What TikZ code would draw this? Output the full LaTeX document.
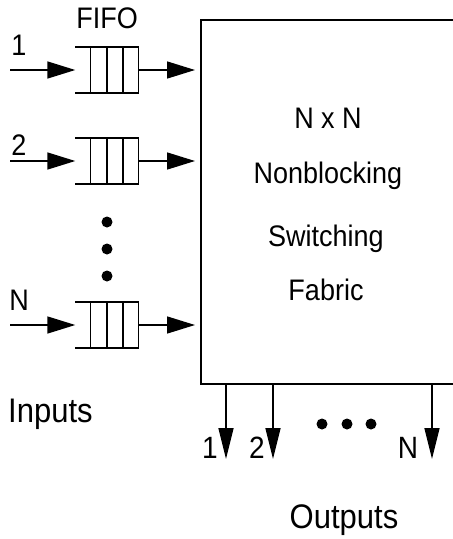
\documentclass[tikz,border=0pt]{standalone}
\usepackage{fontspec}
\setmainfont{Liberation Sans}
\usetikzlibrary{arrows.meta, calc, positioning}
\newcommand{\tallish}[1]{\scalebox{1}[1.1]{#1}}

\begin{document}
\begin{tikzpicture}[x=1pt, y=-1pt,
    flow/.style={-{Triangle[length=28pt, width=17pt]}, line width=1.5pt},
    outflow/.style={-{Triangle[length=31pt, width=15pt]}, line width=1.5pt},
    fifo/.style={minimum width=63pt, minimum height=46pt, inner sep=0pt},
    lbl/.style={font=\fontsize{27}{30}\selectfont, inner sep=0pt, anchor=base},
    big/.style={font=\fontsize{31}{36}\selectfont, inner sep=0pt, anchor=base},
    fab/.style={font=\fontsize{27}{32}\selectfont, inner sep=0pt, anchor=base},
    dot/.style={circle, fill, inner sep=0pt, minimum size=11pt},
]
\useasboundingbox (0,0) rectangle (453,539);
\clip (0,0) rectangle (453,539);

% switching fabric (right side runs off the page)
\node[draw, line width=1.8pt, minimum width=290pt, minimum height=364pt,
      anchor=north west, inner sep=0pt, outer sep=0pt] (fabric) at (201,20) {};
\node[fab] (t1) at (328,128) {\tallish{N x N}};
\node[fab] (t2) at (328,183) {\tallish{Nonblocking}};
\node[fab] (t3) at (326,246) {\tallish{Switching}};
\node[fab] (t4) at (326,300) {\tallish{Fabric}};

% input queues
\node[lbl] (fifo) at (107,28) {\tallish{FIFO}};
\foreach \i/\y/\lab/\ly in {1/70/1/55, 2/161/2/155, n/325/N/310} {
  \node[fifo] (q\i) at (107,\y) {};
  \draw[line width=1.5pt] (q\i.north west) -- (q\i.north east)
       -- (q\i.south east) -- (q\i.south west);
  \foreach \f in {0.24, 0.5, 0.75}
    \draw[line width=1.5pt] ($(q\i.north west)!\f!(q\i.north east)$)
         -- ($(q\i.south west)!\f!(q\i.south east)$);
  \coordinate (in\i) at (10,\y);
  \node[lbl] (l\i) at (19,\ly) {\tallish{\lab}};
  \draw[flow] (in\i) -- (q\i.west);
  \draw[flow, shorten >=6pt] (q\i.east) -- (q\i.east -| fabric.west);
}
\foreach \y [count=\k] in {222,249,276}
  \node[dot] (vd\k) at (107,\y) {};
\node[big, anchor=base west] (inputs) at (8,422) {\tallish{Inputs}};

% outputs
\foreach \i/\x/\lab/\lx in {1/226/1/210, 2/273/2/257, n/432/N/408} {
  \coordinate (out\i) at (\x,459);
  \draw[outflow] (out\i |- fabric.south) -- (out\i);
  \node[lbl, font=\fontsize{28}{30}\selectfont] (m\i) at (\lx,458) {\tallish{\lab}};
}
\foreach \x [count=\k] in {322,347,371}
  \node[dot] (hd\k) at (\x,424) {};
\node[big] (outputs) at (344,528) {\tallish{Outputs}};
\end{tikzpicture}
\end{document}
